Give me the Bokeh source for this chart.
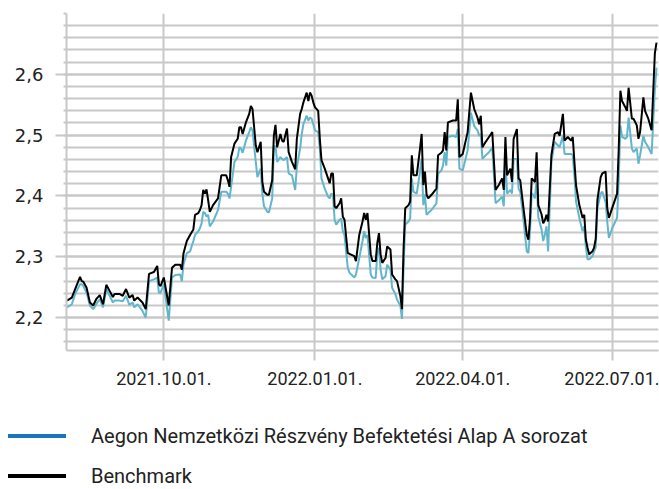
import pandas as pd
from bokeh.plotting import figure
from bokeh.models import (Range1d, FixedTicker, CustomJSTickFormatter, ColumnDataSource, Div)
from bokeh.layouts import column
from bokeh.embed import file_html
from bokeh.resources import INLINE

# ---------------- data ----------------
dates = [
    "2021-08-03", "2021-08-06", "2021-08-08", "2021-08-11", "2021-08-12", "2021-08-13",
    "2021-08-15", "2021-08-17", "2021-08-19", "2021-08-21", "2021-08-23", "2021-08-25",
    "2021-08-27", "2021-08-29", "2021-08-31", "2021-09-01", "2021-09-04", "2021-09-06",
    "2021-09-08", "2021-09-10", "2021-09-12", "2021-09-13", "2021-09-15", "2021-09-18",
    "2021-09-20", "2021-09-22", "2021-09-25", "2021-09-27", "2021-09-28", "2021-09-29",
    "2021-10-01", "2021-10-04", "2021-10-06", "2021-10-08", "2021-10-11", "2021-10-12",
    "2021-10-13", "2021-10-15", "2021-10-17", "2021-10-19", "2021-10-20", "2021-10-22",
    "2021-10-23", "2021-10-24", "2021-10-25", "2021-10-26", "2021-10-27", "2021-10-28",
    "2021-10-29", "2021-10-31", "2021-11-03", "2021-11-05", "2021-11-08", "2021-11-09",
    "2021-11-10", "2021-11-11", "2021-11-13", "2021-11-15", "2021-11-16", "2021-11-17",
    "2021-11-18", "2021-11-20", "2021-11-22", "2021-11-23", "2021-11-24", "2021-11-26",
    "2021-11-27", "2021-11-29", "2021-11-30", "2021-12-01", "2021-12-03", "2021-12-04",
    "2021-12-06", "2021-12-07", "2021-12-08", "2021-12-09", "2021-12-11", "2021-12-12",
    "2021-12-13", "2021-12-15", "2021-12-16", "2021-12-18", "2021-12-20", "2021-12-21",
    "2021-12-23", "2021-12-24", "2021-12-25", "2021-12-27", "2021-12-28", "2021-12-29",
    "2021-12-30", "2021-12-31", "2022-01-01", "2022-01-03", "2022-01-04", "2022-01-05",
    "2022-01-07", "2022-01-09", "2022-01-10", "2022-01-11", "2022-01-12", "2022-01-13",
    "2022-01-14", "2022-01-16", "2022-01-17", "2022-01-18", "2022-01-19", "2022-01-21",
    "2022-01-22", "2022-01-25", "2022-01-26", "2022-01-28", "2022-01-30", "2022-01-31",
    "2022-02-01", "2022-02-02", "2022-02-04", "2022-02-05", "2022-02-07", "2022-02-08",
    "2022-02-09", "2022-02-10", "2022-02-11", "2022-02-13", "2022-02-14", "2022-02-16",
    "2022-02-17", "2022-02-19", "2022-02-20", "2022-02-22", "2022-02-23", "2022-02-24",
    "2022-02-25", "2022-02-27", "2022-02-28", "2022-03-01", "2022-03-02", "2022-03-04",
    "2022-03-06", "2022-03-07", "2022-03-08", "2022-03-09", "2022-03-10", "2022-03-11",
    "2022-03-13", "2022-03-16", "2022-03-17", "2022-03-19", "2022-03-20", "2022-03-21",
    "2022-03-22", "2022-03-23", "2022-03-26", "2022-03-28", "2022-03-29", "2022-03-30",
    "2022-04-01", "2022-04-04", "2022-04-06", "2022-04-08", "2022-04-10", "2022-04-11",
    "2022-04-12", "2022-04-13", "2022-04-15", "2022-04-17", "2022-04-19", "2022-04-21",
    "2022-04-23", "2022-04-25", "2022-04-26", "2022-04-27", "2022-04-28", "2022-04-30",
    "2022-05-01", "2022-05-02", "2022-05-04", "2022-05-05", "2022-05-06", "2022-05-08",
    "2022-05-10", "2022-05-11", "2022-05-12", "2022-05-13", "2022-05-14", "2022-05-15",
    "2022-05-16", "2022-05-17", "2022-05-19", "2022-05-20", "2022-05-21", "2022-05-22",
    "2022-05-23", "2022-05-25", "2022-05-27", "2022-05-29", "2022-05-30", "2022-06-01",
    "2022-06-02", "2022-06-04", "2022-06-06", "2022-06-07", "2022-06-08", "2022-06-09",
    "2022-06-11", "2022-06-13", "2022-06-14", "2022-06-15", "2022-06-16", "2022-06-17",
    "2022-06-19", "2022-06-20", "2022-06-21", "2022-06-22", "2022-06-24", "2022-06-25",
    "2022-06-27", "2022-06-28", "2022-06-29", "2022-07-01", "2022-07-04", "2022-07-05",
    "2022-07-06", "2022-07-07", "2022-07-09", "2022-07-10", "2022-07-11", "2022-07-13",
    "2022-07-14", "2022-07-16", "2022-07-17", "2022-07-18", "2022-07-20", "2022-07-21",
    "2022-07-23", "2022-07-25", "2022-07-27", "2022-07-28",
]

benchmark = [
    2.228, 2.233, 2.247, 2.267, 2.260, 2.259, 2.249, 2.225, 2.220, 2.231, 2.237, 2.222,
    2.254, 2.244, 2.234, 2.239, 2.239, 2.236, 2.247, 2.233, 2.237, 2.228, 2.233, 2.225,
    2.214, 2.272, 2.275, 2.285, 2.255, 2.252, 2.266, 2.220, 2.282, 2.287, 2.287, 2.279,
    2.306, 2.326, 2.336, 2.345, 2.369, 2.372, 2.377, 2.385, 2.410, 2.404, 2.411, 2.393,
    2.374, 2.385, 2.396, 2.434, 2.434, 2.426, 2.415, 2.464, 2.486, 2.494, 2.513, 2.513,
    2.502, 2.521, 2.535, 2.548, 2.543, 2.483, 2.472, 2.489, 2.423, 2.407, 2.402, 2.402,
    2.426, 2.499, 2.517, 2.480, 2.502, 2.491, 2.489, 2.511, 2.472, 2.456, 2.444, 2.494,
    2.535, 2.543, 2.554, 2.570, 2.556, 2.570, 2.565, 2.554, 2.546, 2.540, 2.494, 2.459,
    2.445, 2.429, 2.421, 2.437, 2.437, 2.383, 2.380, 2.388, 2.396, 2.366, 2.361, 2.306,
    2.305, 2.301, 2.293, 2.336, 2.358, 2.372, 2.361, 2.372, 2.304, 2.293, 2.293, 2.323,
    2.339, 2.304, 2.290, 2.298, 2.317, 2.312, 2.271, 2.263, 2.260, 2.236, 2.214, 2.315,
    2.380, 2.385, 2.391, 2.467, 2.434, 2.434, 2.478, 2.502, 2.418, 2.440, 2.402, 2.396,
    2.402, 2.412, 2.467, 2.471, 2.475, 2.505, 2.475, 2.521, 2.524, 2.524, 2.559, 2.464,
    2.469, 2.505, 2.570, 2.543, 2.529, 2.518, 2.532, 2.480, 2.489, 2.497, 2.505, 2.410,
    2.418, 2.429, 2.410, 2.497, 2.434, 2.445, 2.423, 2.494, 2.510, 2.429, 2.426, 2.380,
    2.336, 2.328, 2.363, 2.429, 2.426, 2.423, 2.472, 2.385, 2.370, 2.355, 2.360, 2.369,
    2.358, 2.467, 2.502, 2.505, 2.499, 2.535, 2.491, 2.497, 2.491, 2.497, 2.456, 2.418,
    2.385, 2.364, 2.369, 2.328, 2.315, 2.304, 2.309, 2.315, 2.330, 2.393, 2.431, 2.437,
    2.440, 2.380, 2.364, 2.380, 2.404, 2.478, 2.573, 2.556, 2.546, 2.540, 2.578, 2.527,
    2.527, 2.516, 2.494, 2.505, 2.562, 2.540, 2.527, 2.508, 2.635, 2.652,
]

fund = [
    2.217, 2.222, 2.239, 2.255, 2.255, 2.252, 2.241, 2.220, 2.214, 2.223, 2.230, 2.217,
    2.247, 2.236, 2.225, 2.228, 2.228, 2.227, 2.236, 2.221, 2.225, 2.217, 2.222, 2.211,
    2.200, 2.260, 2.263, 2.266, 2.241, 2.241, 2.255, 2.195, 2.266, 2.270, 2.271, 2.260,
    2.288, 2.306, 2.309, 2.326, 2.336, 2.342, 2.347, 2.355, 2.374, 2.372, 2.366, 2.369,
    2.350, 2.358, 2.377, 2.407, 2.407, 2.404, 2.396, 2.415, 2.456, 2.464, 2.480, 2.478,
    2.471, 2.491, 2.505, 2.513, 2.508, 2.456, 2.431, 2.445, 2.404, 2.383, 2.374, 2.373,
    2.396, 2.478, 2.483, 2.456, 2.464, 2.461, 2.459, 2.464, 2.437, 2.434, 2.410, 2.448,
    2.478, 2.502, 2.518, 2.532, 2.524, 2.529, 2.527, 2.518, 2.508, 2.505, 2.478, 2.429,
    2.412, 2.399, 2.396, 2.404, 2.402, 2.361, 2.353, 2.361, 2.363, 2.342, 2.336, 2.282,
    2.274, 2.266, 2.271, 2.298, 2.326, 2.342, 2.331, 2.336, 2.271, 2.266, 2.265, 2.306,
    2.315, 2.279, 2.263, 2.268, 2.287, 2.279, 2.249, 2.239, 2.230, 2.220, 2.198, 2.282,
    2.353, 2.358, 2.363, 2.429, 2.407, 2.404, 2.440, 2.461, 2.385, 2.402, 2.369, 2.372,
    2.377, 2.388, 2.437, 2.442, 2.450, 2.472, 2.450, 2.497, 2.499, 2.497, 2.510, 2.445,
    2.442, 2.475, 2.537, 2.515, 2.508, 2.499, 2.502, 2.461, 2.467, 2.472, 2.480, 2.388,
    2.393, 2.399, 2.383, 2.464, 2.404, 2.410, 2.404, 2.461, 2.461, 2.412, 2.407, 2.361,
    2.309, 2.306, 2.342, 2.404, 2.402, 2.396, 2.429, 2.366, 2.345, 2.326, 2.336, 2.350,
    2.309, 2.456, 2.489, 2.483, 2.480, 2.499, 2.469, 2.469, 2.469, 2.467, 2.434, 2.391,
    2.364, 2.342, 2.350, 2.315, 2.296, 2.296, 2.301, 2.309, 2.315, 2.380, 2.404, 2.407,
    2.390, 2.358, 2.331, 2.347, 2.364, 2.429, 2.516, 2.497, 2.494, 2.497, 2.529, 2.478,
    2.472, 2.478, 2.453, 2.467, 2.499, 2.489, 2.480, 2.469, 2.576, 2.611,
]

series_names = ["Aegon Nemzetközi Részvény Befektetési Alap A sorozat", "Benchmark"]
x_tick_dates = ["2021-10-01", "2022-01-01", "2022-04-01", "2022-07-01"]
y_major_ticks = [2.2, 2.3, 2.4, 2.5, 2.6]
y_minor_ticks = [2.16, 2.18, 2.20, 2.22, 2.24, 2.26, 2.28, 2.30, 2.32, 2.34, 2.36, 2.38,
                 2.40, 2.42, 2.44, 2.46, 2.48, 2.50, 2.52, 2.54, 2.56, 2.58, 2.60, 2.62,
                 2.64, 2.66, 2.68, 2.70]

# ---------------- styling ----------------
FONT = "Roboto"
YFONT = "DejaVu Sans"
GRID = "#c8c8c8"
TEXT = "#222222"
FUND_LINE = "#62b6cc"
FUND_LEGEND = "#1a74bb"
BENCH = "#000000"

src = ColumnDataSource(dict(date=pd.to_datetime(dates), bench=benchmark, fund=fund))

p = figure(width=659, height=400, x_axis_type="datetime", output_backend="svg",
           toolbar_location=None,
           x_range=Range1d(pd.Timestamp("2021-08-02 18:00"), pd.Timestamp("2022-07-29 05:00")),
           y_range=Range1d(2.146, 2.70),
           min_border_left=66, min_border_right=1, min_border_top=13, min_border_bottom=50)
p.outline_line_color = None
p.background_fill_color = "white"

p.line("date", "fund", source=src, color=FUND_LINE, line_width=2)
p.line("date", "bench", source=src, color=BENCH, line_width=2)

# x axis
tick_ms = [pd.Timestamp(d).value // 10**6 for d in x_tick_dates]
xt = FixedTicker(ticks=tick_ms, minor_ticks=[])
p.xaxis.ticker = xt
p.xgrid.ticker = xt
p.xaxis.formatter = CustomJSTickFormatter(code="""
    const d = new Date(tick);
    const m = String(d.getUTCMonth() + 1).padStart(2, '0');
    const dd = String(d.getUTCDate()).padStart(2, '0');
    return d.getUTCFullYear() + '.' + m + '.' + dd + '.';
""")
# y axis
yt = FixedTicker(ticks=y_major_ticks, minor_ticks=y_minor_ticks)
p.yaxis.ticker = yt
p.ygrid.ticker = yt
p.yaxis.formatter = CustomJSTickFormatter(code="return tick.toFixed(1).replace('.', ',');")

for ax in (p.xaxis[0], p.yaxis[0]):
    ax.axis_line_color = GRID
    ax.axis_line_width = 2
    ax.major_tick_line_color = GRID
    ax.major_tick_line_width = 2
    ax.major_tick_in = 0
    ax.major_label_text_color = TEXT

p.xaxis.major_label_text_font = FONT
p.xaxis.major_label_text_font_size = "18px"
p.xaxis.major_tick_out = 10
p.xaxis.minor_tick_line_color = None
p.xaxis.major_label_standoff = 11

p.yaxis.major_label_text_font = YFONT
p.yaxis.major_label_text_font_size = "18px"
p.yaxis.major_tick_out = 11
p.yaxis.minor_tick_in = 0
p.yaxis.minor_tick_out = 3
p.yaxis.minor_tick_line_color = GRID
p.yaxis.minor_tick_line_width = 2
p.yaxis.major_label_standoff = 12

p.xgrid.grid_line_color = GRID
p.xgrid.grid_line_width = 2
p.ygrid.grid_line_color = GRID
p.ygrid.grid_line_width = 2
p.ygrid.minor_grid_line_color = GRID
p.ygrid.minor_grid_line_width = 2

# ---------------- legend strip (HTML) ----------------
def legend_row(center, color, label):
    return (
        f'<div style="position:absolute;left:8px;top:{center - 2}px;width:58px;height:4px;'
        f'background:{color};"></div>'
        f'<div style="position:absolute;left:91px;top:{center - 9}px;height:18px;line-height:18px;'
        f'white-space:nowrap;">{label}</div>'
    )

legend_html = (
    f'<div style="position:relative;width:659px;height:89px;font-family:{FONT};'
    f'font-size:20px;color:{TEXT};">'
    + legend_row(36, FUND_LEGEND, series_names[0])
    + legend_row(76, BENCH, series_names[1])
    + '</div>'
)
legend_div = Div(text=legend_html, width=659, height=89, margin=(0, 0, 0, 0))

layout = column(p, legend_div, spacing=0)
open("out.html", "w").write(file_html(layout, INLINE))
